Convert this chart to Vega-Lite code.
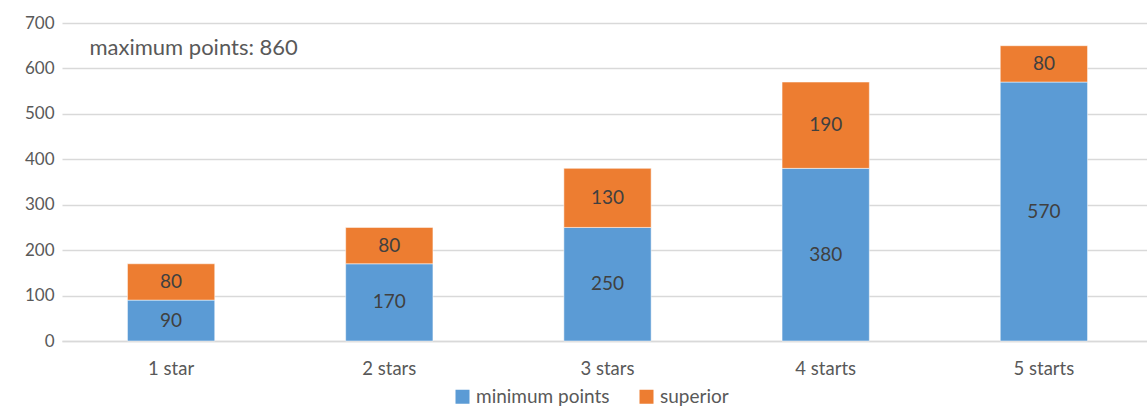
{
  "$schema": "https://vega.github.io/schema/vega-lite/v6.json",
  "width": 1091,
  "height": 318,
  "autosize": "none",
  "padding": {"left": 62, "top": 23, "right": 0, "bottom": 67},
  "background": "white",
  "config": {
    "view": {"stroke": null},
    "font": "Lato"
  },
  "data": {
    "values": [
      {"cat": "1 star", "series": "minimum points", "value": 90},
      {"cat": "1 star", "series": "superior", "value": 80},
      {"cat": "2 stars", "series": "minimum points", "value": 170},
      {"cat": "2 stars", "series": "superior", "value": 80},
      {"cat": "3 stars", "series": "minimum points", "value": 250},
      {"cat": "3 stars", "series": "superior", "value": 130},
      {"cat": "4 starts", "series": "minimum points", "value": 380},
      {"cat": "4 starts", "series": "superior", "value": 190},
      {"cat": "5 starts", "series": "minimum points", "value": 570},
      {"cat": "5 starts", "series": "superior", "value": 80}
    ]
  },
  "encoding": {
    "x": {
      "field": "cat",
      "type": "nominal",
      "sort": null,
      "scale": {"paddingInner": 0.6, "paddingOuter": 0.3},
      "axis": {
        "title": null,
        "labelAngle": 0,
        "labelFont": "Lato",
        "labelFontSize": 18.5,
        "labelColor": "#595959",
        "labelPadding": 18,
        "ticks": false,
        "domainColor": "#D9D9D9",
        "domainWidth": 1.5
      }
    }
  },
  "layer": [
    {
      "mark": {"type": "bar", "stroke": "white", "strokeWidth": 0.5},
      "encoding": {
        "y": {
          "field": "value",
          "type": "quantitative",
          "stack": "zero",
          "scale": {"domain": [0, 700], "nice": false},
          "axis": {
            "title": null,
            "values": [0, 100, 200, 300, 400, 500, 600, 700],
            "labelFont": "Lato",
            "labelFontSize": 17,
            "labelColor": "#595959",
            "labelPadding": 8,
            "ticks": false,
            "domain": false,
            "gridColor": "#D9D9D9",
            "gridWidth": 1.5
          }
        },
        "order": {"field": "series", "sort": "ascending"},
        "color": {
          "field": "series",
          "type": "nominal",
          "scale": {"domain": ["minimum points", "superior"], "range": ["#5B9BD5", "#ED7D31"]},
          "legend": {
            "title": null,
            "orient": "none",
            "direction": "horizontal",
            "legendX": 391,
            "legendY": 364,
            "symbolType": "square",
            "symbolSize": 196,
            "symbolStrokeWidth": 0,
            "labelFont": "Lato",
            "labelFontSize": 19,
            "labelColor": "#595959",
            "columnPadding": 27,
            "labelOffset": 4
          }
        }
      }
    },
    {
      "mark": {"type": "text", "fontSize": 19, "color": "#404040", "font": "Lato", "baseline": "middle"},
      "encoding": {
        "y": {"field": "value", "type": "quantitative", "stack": "zero", "bandPosition": 0.5},
        "order": {"field": "series", "sort": "ascending"},
        "detail": {"field": "series"},
        "text": {"field": "value", "type": "quantitative"}
      }
    },
    {
      "data": {"values": [{"label": "maximum points: 860"}]},
      "mark": {"type": "text", "fontSize": 22, "color": "#595959", "font": "Lato", "align": "left", "baseline": "middle", "dx": -38},
      "encoding": {
        "x": {"datum": "1 star", "bandPosition": 0},
        "y": {"datum": 645},
        "text": {"field": "label"}
      }
    }
  ]
}
